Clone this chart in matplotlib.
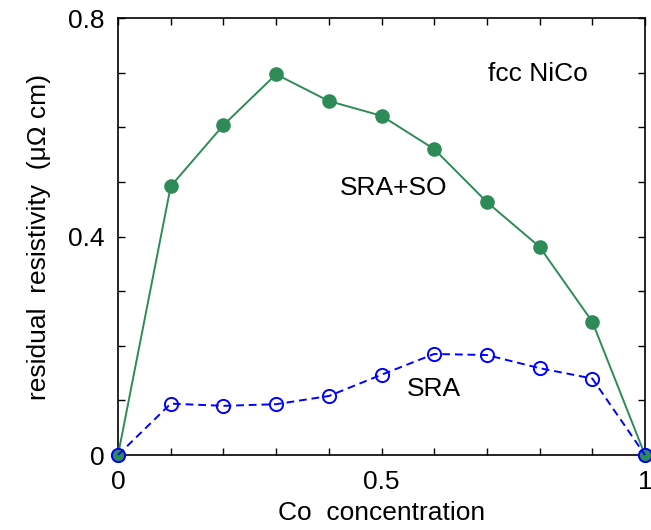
import matplotlib
matplotlib.use("Agg")
import matplotlib.pyplot as plt
from matplotlib.ticker import MultipleLocator

plt.rcParams['font.family'] = ['Liberation Sans', 'DejaVu Sans']

co_conc = [0.0, 0.1, 0.2, 0.3, 0.4, 0.5, 0.6, 0.7, 0.8, 0.9, 1.0]
rho_sra_so = [0.0, 0.492, 0.604, 0.697, 0.648, 0.621, 0.560, 0.463, 0.381, 0.244, 0.0]
rho_sra = [0.0, 0.094, 0.090, 0.093, 0.108, 0.147, 0.185, 0.183, 0.159, 0.140, 0.0]

xticks = [0, 0.5, 1]
xtick_labels = ["0", "0.5", "1"]
yticks = [0, 0.4, 0.8]
ytick_labels = ["0", "0.4", "0.8"]

fig = plt.figure(figsize=(6.51, 5.30), dpi=100)
ax = fig.add_axes([0.1813, 0.1415, 0.8095, 0.8245])

green = "#2e8b57"
blue = "#0000ff"

ax.plot(co_conc, rho_sra_so, '-o', color=green, lw=1.4, ms=9.5,
        markerfacecolor=green, markeredgecolor=green, clip_on=False, zorder=3)
ax.plot(co_conc, rho_sra, '--o', color=blue, lw=1.4, ms=9.5,
        markerfacecolor='none', markeredgecolor=blue, markeredgewidth=1.4,
        dashes=(4, 2.5), clip_on=False, zorder=4)

ax.set_xlim(0, 1)
ax.set_ylim(0, 0.8)
ax.set_xticks(xticks)
ax.set_xticklabels(xtick_labels)
ax.set_yticks(yticks)
ax.set_yticklabels(ytick_labels)
ax.xaxis.set_minor_locator(MultipleLocator(0.1))
ax.yaxis.set_minor_locator(MultipleLocator(0.1))
ax.tick_params(which='both', direction='in', top=True, right=True,
               length=5, width=1, labelsize=19)
ax.tick_params(axis='x', which='both', pad=11)
ax.tick_params(axis='y', which='both', pad=10)

for s in ax.spines.values():
    s.set_linewidth(1.2)

ax.set_xlabel("Co  concentration", fontsize=19, labelpad=5)
ax.set_ylabel("residual  resistivity  (\u03bc\u03a9 cm)", fontsize=19, labelpad=12)

ax.text(0.797, 0.873, "fcc NiCo", transform=ax.transAxes, fontsize=19,
        ha='center', va='center')
ax.text(0.522, 0.612, "SRA+SO", transform=ax.transAxes, fontsize=19,
        ha='center', va='center')
ax.text(0.599, 0.151, "SRA", transform=ax.transAxes, fontsize=19,
        ha='center', va='center')

fig.savefig("out.png", dpi=100)
